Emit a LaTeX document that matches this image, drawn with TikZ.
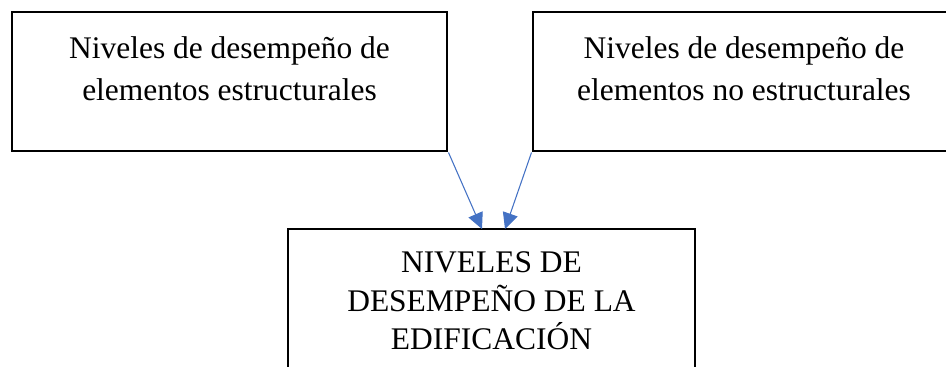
\documentclass[tikz,border=0pt]{standalone}
\usepackage{fontspec}
\setmainfont{Liberation Serif}
\usepackage{xcolor}
\usetikzlibrary{arrows.meta,positioning}

\definecolor{arrowblue}{HTML}{4472C4}

\begin{document}
\begin{tikzpicture}[x=0.75pt, y=-0.75pt,
    every node/.style={font=\fontsize{23.6}{31.5}\selectfont},
    levelbox/.style={draw, line width=2.2pt, rectangle, align=center, inner sep=0pt},
    link/.style={draw=arrowblue, line width=0.8pt, -{Triangle[length=12pt,width=11.5pt]}}]
    \useasboundingbox (0,0) rectangle (946,367);
    \clip (0,0) rectangle (946,367);

    \node[levelbox, minimum width=326.25pt, minimum height=104.25pt, text depth=19pt] (estructural) at (229.5,81.5) {Niveles de desempeño de\\elementos estructurales};
    \node[levelbox, minimum width=316.5pt, minimum height=104.25pt, text depth=19pt] (noestructural) at (744,81.5) {Niveles de desempeño de\\elementos no estructurales};
    \node[levelbox, minimum width=305.25pt, minimum height=108pt,
          font=\fontsize{23.6}{29}\selectfont] (edificacion) at (491.5,301) {NIVELES DE\\DESEMPEÑO DE LA\\EDIFICACIÓN};

    \coordinate (inleft) at (482,229);
    \coordinate (inright) at (505,229);
    \draw[link] (estructural.south east) -- (inleft);
    \draw[link] (noestructural.south west) -- (inright);
\end{tikzpicture}
\end{document}
